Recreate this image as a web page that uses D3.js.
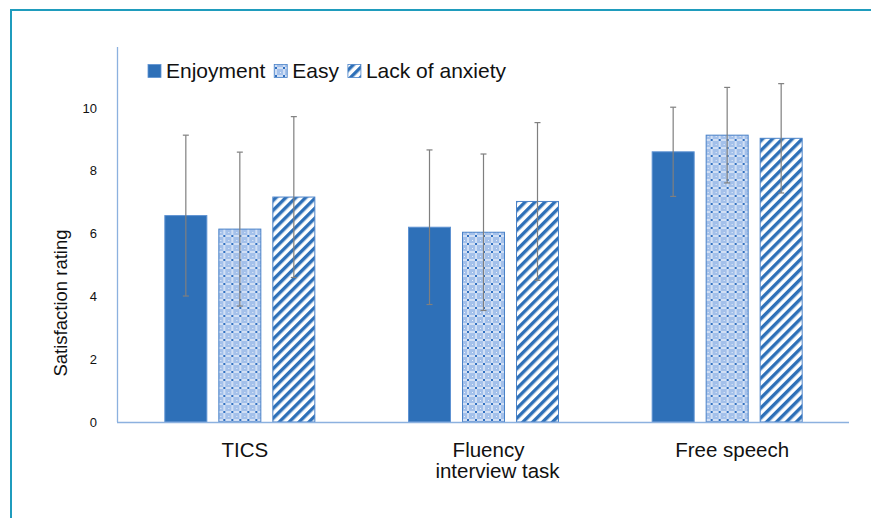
<!DOCTYPE html>
<html>
<head>
<meta charset="utf-8">
<script src="https://cdn.jsdelivr.net/npm/d3@7"></script>
<style>
  body { margin: 0; background: #fff; }
  svg { display: block; font-family: "Liberation Sans", Arial, Helvetica, sans-serif; }
</style>
</head>
<body>
<div id="chart"></div>
<script>
// categories and series
var tasks = ["TICS", "Fluency interview task", "Free speech"];
var taskLines = [["TICS"], ["Fluency", "interview task"], ["Free speech"]];
var series = ["Enjoyment", "Easy", "Lack of anxiety"];

// mean ratings per task, one array per series
var enjoyment = [6.57, 6.20, 8.60];
var easy = [6.14, 6.04, 9.13];
var lackOfAnxiety = [7.16, 7.02, 9.03];

// standard deviations (error bars)
var enjoymentSd = [2.56, 2.46, 1.42];
var easySd = [2.45, 2.49, 1.52];
var lackOfAnxietySd = [2.56, 2.51, 1.74];

var yTicks = [0, 2, 4, 6, 8, 10];

var W = 871, H = 518;
var margin = { left: 118, right: 849, top: 45, bottom: 422 };

var svg = d3.select("#chart").append("svg")
    .attr("width", W)
    .attr("height", H);

svg.append("rect").attr("width", W).attr("height", H).attr("fill", "#fff");

// patterns
var defs = svg.append("defs");
var blue = "#2e70b8";

var pEasy = defs.append("pattern")
    .attr("id", "pat-easy")
    .attr("patternUnits", "userSpaceOnUse")
    .attr("width", 8).attr("height", 8);
pEasy.append("rect").attr("width", 8).attr("height", 8).attr("fill", "#a3c0ea");
pEasy.append("rect").attr("x", 0).attr("y", 3.5).attr("width", 8).attr("height", 1).attr("fill", "#ffffff");
pEasy.append("rect").attr("x", 3.5).attr("y", 0).attr("width", 1).attr("height", 8).attr("fill", "#ffffff");
pEasy.append("rect").attr("x", 3).attr("y", 3).attr("width", 2).attr("height", 2).attr("fill", "#2f6fc0");
pEasy.append("rect").attr("x", 0).attr("y", 0).attr("width", 1).attr("height", 1).attr("fill", "#e8f0fb");

var pLack = defs.append("pattern")
    .attr("id", "pat-lack")
    .attr("patternUnits", "userSpaceOnUse")
    .attr("width", 7).attr("height", 7)
    .attr("patternTransform", "rotate(45)");
pLack.append("rect").attr("width", 7).attr("height", 7).attr("fill", "#ffffff");
pLack.append("rect").attr("width", 3.4).attr("height", 7).attr("fill", blue);

var fills = [blue, "url(#pat-easy)", "url(#pat-lack)"];
var strokes = ["#5e92d2", "#4a82c8", "#4a82c8"];

// frame
svg.append("line").attr("x1", 10).attr("x2", W).attr("y1", 10).attr("y2", 10)
    .attr("stroke", "#1f9cbd").attr("stroke-width", 2);
svg.append("line").attr("x1", 11).attr("x2", 11).attr("y1", 9).attr("y2", H)
    .attr("stroke", "#1f9cbd").attr("stroke-width", 2);

// scales
var x0 = d3.scaleBand().domain(tasks).range([margin.left, margin.right]).padding(0);
var groupW = 151;
var x1 = d3.scaleBand().domain(series).range([0, groupW]).paddingInner(11 / 54).paddingOuter(0);
var y = d3.scaleLinear().domain([0, 12]).range([margin.bottom, margin.top]);

var rows = tasks.map(function(t, i) {
  return [
    { task: t, s: series[0], v: enjoyment[i], e: enjoymentSd[i], k: 0 },
    { task: t, s: series[1], v: easy[i], e: easySd[i], k: 1 },
    { task: t, s: series[2], v: lackOfAnxiety[i], e: lackOfAnxietySd[i], k: 2 }
  ];
});

var groups = svg.selectAll("g.grp")
    .data(rows)
    .enter().append("g")
    .attr("class", "grp")
    .attr("transform", function(d, i) {
      return "translate(" + (x0(tasks[i]) + x0.bandwidth() / 2 - groupW / 2) + ",0)";
    });

groups.selectAll("rect")
    .data(function(d) { return d; })
    .enter().append("rect")
    .attr("x", function(d) { return x1(d.s) + 0.5; })
    .attr("y", function(d) { return y(d.v); })
    .attr("width", x1.bandwidth() - 1)
    .attr("height", function(d) { return y(0) - y(d.v); })
    .attr("fill", function(d) { return fills[d.k]; })
    .attr("stroke", function(d) { return strokes[d.k]; })
    .attr("stroke-width", 1);

// error bars
var eb = groups.selectAll("g.err")
    .data(function(d) { return d; })
    .enter().append("g")
    .attr("class", "err")
    .attr("stroke", "#7f7f7f")
    .attr("stroke-width", 1.2);
eb.append("line")
    .attr("x1", function(d) { return x1(d.s) + x1.bandwidth() / 2; })
    .attr("x2", function(d) { return x1(d.s) + x1.bandwidth() / 2; })
    .attr("y1", function(d) { return y(d.v + d.e); })
    .attr("y2", function(d) { return y(d.v - d.e); });
["+", "-"].forEach(function(sign) {
  eb.append("line")
    .attr("x1", function(d) { return x1(d.s) + x1.bandwidth() / 2 - 3; })
    .attr("x2", function(d) { return x1(d.s) + x1.bandwidth() / 2 + 3; })
    .attr("y1", function(d) { return y(sign === "+" ? d.v + d.e : d.v - d.e); })
    .attr("y2", function(d) { return y(sign === "+" ? d.v + d.e : d.v - d.e); });
});

// axes
var axisColor = "#8cb1df";
svg.append("line").attr("x1", margin.left - 0.5).attr("x2", margin.left - 0.5)
    .attr("y1", margin.top + 2).attr("y2", margin.bottom)
    .attr("stroke", axisColor).attr("stroke-width", 1.3);
svg.append("line").attr("x1", margin.left - 1).attr("x2", margin.right)
    .attr("y1", margin.bottom + 0.5).attr("y2", margin.bottom + 0.5)
    .attr("stroke", axisColor).attr("stroke-width", 1.3);

svg.selectAll("text.ytick")
    .data(yTicks)
    .enter().append("text")
    .attr("class", "ytick")
    .attr("x", margin.left - 21)
    .attr("y", function(d) { return y(d); })
    .attr("dy", "0.36em")
    .attr("text-anchor", "end")
    .attr("font-size", 13)
    .attr("fill", "#111")
    .text(function(d) { return d; });

// category labels
taskLines.forEach(function(lines, i) {
  var cx = x0(tasks[i]) + x0.bandwidth() / 2 + 5;
  lines.forEach(function(s, j) {
    svg.append("text")
      .attr("x", cx + j * 9)
      .attr("y", 457 + j * 20.5)
      .attr("text-anchor", "middle")
      .attr("font-size", 20.5)
      .attr("fill", "#111")
      .text(s);
  });
});

// y axis title
svg.append("text")
    .attr("transform", "translate(67,303) rotate(-90)")
    .attr("text-anchor", "middle")
    .attr("font-size", 18.5)
    .attr("fill", "#111")
    .text("Satisfaction rating");

// legend
var lx = 148;
series.forEach(function(s, i) {
  svg.append("rect")
    .attr("x", lx).attr("y", 64.5)
    .attr("width", 13).attr("height", 13)
    .attr("fill", fills[i])
    .attr("stroke", strokes[i]).attr("stroke-width", 0.8);
  var t = svg.append("text")
    .attr("x", lx + 18)
    .attr("y", 77.5)
    .attr("font-size", 21)
    .attr("fill", "#111")
    .text(s);
  lx = lx + 18 + t.node().getComputedTextLength() + 9;
});
</script>
</body>
</html>
